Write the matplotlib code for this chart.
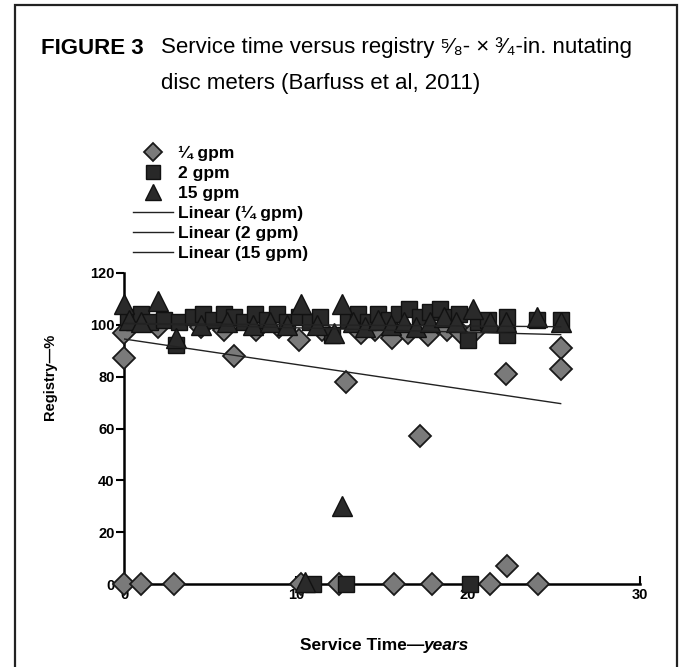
import numpy as np
import matplotlib
matplotlib.use('Agg')
import matplotlib.pyplot as plt
from matplotlib.patches import Rectangle

plt.rcParams['font.family'] = ['Liberation Sans', 'DejaVu Sans']

## Datos (anos de servicio, registro %)
x_q = [0.0, 0.0, 0.0, 1.0, 2.0, 2.9, 4.5, 5.8, 6.4, 7.7, 9.0, 10.2, 10.3, 11.5, 12.5, 12.9,
       13.8, 14.6, 15.6, 15.7, 16.5, 17.2, 17.7, 17.9, 18.8, 19.6, 20.5, 21.3, 22.2, 22.3,
       24.1, 25.4, 25.4]
y_q = [97, 87, 0, 0, 99, 0, 99, 98, 88, 98, 99, 94, 0, 98, 0, 78,
       97, 98, 95, 0, 97, 57, 96, 0, 98, 97, 98, 0, 81, 7,
       0, 91, 83]

x_2 = [0.2, 0.6, 1.0, 1.5, 2.3, 3.0, 3.2, 4.0, 4.6, 5.2, 5.8, 6.4, 7.0, 7.6, 8.3, 8.9,
       9.5, 10.2, 10.8, 11.0, 11.4, 12.1, 12.9, 13.0, 13.6, 14.2, 14.8, 15.4, 16.0, 16.6,
       17.2, 17.8, 18.4, 19.0, 19.5, 20.0, 20.1, 20.6, 21.2, 22.3, 22.3, 24.0, 25.4]
y_2 = [103, 101, 104, 101, 102, 92, 101, 103, 104, 102, 104, 103, 101, 104, 102, 104,
       101, 103, 101, 0, 103, 96, 0, 102, 104, 101, 104, 102, 104, 106,
       103, 105, 106, 103, 104, 94, 0, 101, 102, 103, 96, 102, 102]

x_15 = [0.0, 0.3, 1.0, 2.0, 3.0, 4.5, 6.0, 7.5, 8.5, 9.5, 10.3, 10.5, 11.2, 12.2, 12.7,
        12.7, 13.3, 14.0, 14.8, 15.5, 16.3, 17.0, 17.8, 18.6, 19.3, 20.3, 21.3, 22.2,
        24.0, 25.4]
y_15 = [108, 102, 101, 109, 95, 100, 101, 100, 101, 100, 108, 1, 100, 97, 108,
        30, 101, 99, 102, 100, 101, 99, 101, 103, 101, 106, 101, 101,
        103, 101]

## Lineas de tendencia (ordenada, pendiente)
trend_q  = [94.5, -0.98]
trend_2  = [100.5, -0.05]
trend_15 = [100.5, -0.17]
trend_x  = [0.0, 25.4]

fig = plt.figure(figsize=(6.82, 6.67), dpi=100)
ax = fig.add_axes([0.182, 0.124, 0.756, 0.467])

## Marco de la figura
fig.add_artist(Rectangle((15/682, -0.01), 662/682, 1.0 - 5/667 + 0.01,
                         transform=fig.transFigure, fill=False, lw=1.6, ec='#222222'))

mk = dict(linestyle='none', clip_on=False, zorder=3)
ax.plot(x_q, y_q, marker='D', ms=11, mfc='#7a7a7a', mec='#1a1a1a', mew=1.3, label='¼ gpm', **mk)
ax.plot(x_2, y_2, marker='s', ms=12, mfc='#282828', mec='#111111', mew=1.0, label='2 gpm', **mk)
ax.plot(x_15, y_15, marker='^', ms=14, mfc='#2a2a2a', mec='#111111', mew=1.0, label='15 gpm', **mk)

tx = np.array(trend_x)
ax.plot(tx, trend_q[0] + trend_q[1]*tx, color='#222222', lw=1.0, label='Linear (¼ gpm)', zorder=4)
ax.plot(tx, trend_2[0] + trend_2[1]*tx, color='#222222', lw=1.0, label='Linear (2 gpm)', zorder=4)
ax.plot(tx, trend_15[0] + trend_15[1]*tx, color='#222222', lw=1.0, label='Linear (15 gpm)', zorder=4)

ax.set_xlim(0, 30)
ax.set_ylim(0, 120)
ax.set_xticks([0, 10, 20, 30])
ax.set_yticks(np.arange(0, 121, 20))
for s in ['top', 'right']:
    ax.spines[s].set_visible(False)
for s in ['left', 'bottom']:
    ax.spines[s].set_linewidth(1.8)
    ax.spines[s].set_zorder(2)
ax.tick_params(axis='y', direction='out', length=6, width=1.5, labelsize=10.5, pad=1)
ax.tick_params(axis='x', direction='in', length=6, width=1.5, labelsize=10.5, pad=3)
for lab in ax.get_xticklabels() + ax.get_yticklabels():
    lab.set_fontweight('bold')

ax.set_ylabel('Registry—%', fontsize=10.5, fontweight='bold')
ax.yaxis.set_label_coords(-0.13, 0.665)

## Etiqueta del eje x (negrita + cursiva)
t1 = fig.text(424/682, 0.025, 'Service Time—', fontsize=12.5, fontweight='bold', ha='right', va='baseline')
ax.annotate('years', xy=(1, 0), xycoords=t1, va='bottom', ha='left',
            fontsize=12.5, fontweight='bold', fontstyle='italic')

## Leyenda
ax.legend(loc='upper left', bbox_to_anchor=(133/682, 1-146/667), bbox_transform=fig.transFigure,
          frameon=False, prop={'weight': 'bold', 'size': 12.5},
          handlelength=2.3, handletextpad=0.3, labelspacing=0.28, borderpad=0, borderaxespad=0,
          markerscale=0.85)

## Titulo
fig.text(41/682, 1-48/667, 'FIGURE 3', fontsize=16, fontweight='bold', va='center', ha='left')
fig.text(161/682, 1-48/667, 'Service time versus registry ⁵⁄₈- × ³⁄₄-in. nutating',
         fontsize=16, va='center', ha='left')
fig.text(161/682, 1-84/667, 'disc meters (Barfuss et al, 2011)',
         fontsize=16, va='center', ha='left')

fig.savefig('out.png', dpi=100)
